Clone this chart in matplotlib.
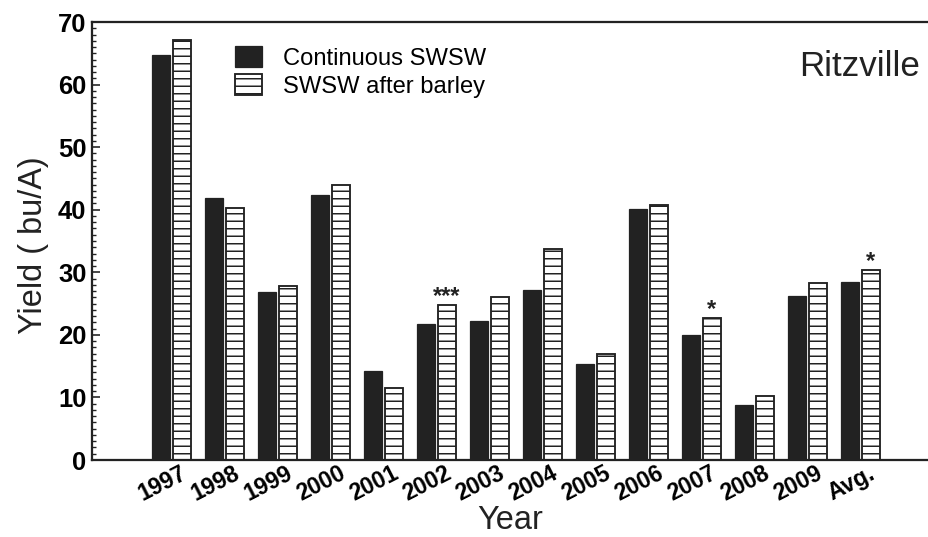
import numpy as np
import matplotlib
matplotlib.use("Agg")
import matplotlib.pyplot as plt
import matplotlib.transforms as mtransforms
from matplotlib.ticker import MultipleLocator

plt.rcParams['font.family'] = ['Liberation Sans', 'DejaVu Sans']
plt.rcParams['hatch.linewidth'] = 1.2

years = ['1997', '1998', '1999', '2000', '2001', '2002', '2003',
         '2004', '2005', '2006', '2007', '2008', '2009', 'Avg.']
continuous = [64.7, 41.9, 26.8, 42.4, 14.2, 21.7, 22.2,
              27.2, 15.3, 40.1, 20.0, 8.8, 26.2, 28.4]
after_barley = [67.1, 40.3, 27.8, 43.9, 11.5, 24.8, 26.0,
                33.7, 16.9, 40.8, 22.7, 10.2, 28.3, 30.4]
stars = {5: '***', 10: '*', 13: '*'}

dark = '#222222'
x = np.arange(len(years))
w = 0.34

fig = plt.figure(figsize=(928 / 90, 537 / 90), dpi=90)
ax = fig.add_axes([92 / 928, 77 / 537, 836 / 928, 438 / 537])

ax.bar(x - 0.2, continuous, w, color=dark, edgecolor=dark, linewidth=1.0,
       label='Continuous SWSW')
ax.bar(x + 0.2, after_barley, w, color='white', edgecolor=dark, linewidth=1.5,
       hatch='--', label='SWSW after barley')

for i, s in stars.items():
    ax.text(x[i] + 0.2, after_barley[i] + 0.3, s, ha='center', va='baseline',
            fontsize=19, fontweight='bold', color=dark)

ax.set_xlim(-1.5, 14.28)
ax.set_ylim(0, 70)
ax.yaxis.set_major_locator(MultipleLocator(10))
ax.yaxis.set_minor_locator(MultipleLocator(1))
ax.tick_params(axis='y', which='major', direction='in', length=6.5, width=1.3,
               labelsize=20.5, pad=4.5, color=dark)
ax.tick_params(axis='y', which='minor', direction='in', length=3.5, width=1.1,
               color=dark)
for lab in ax.get_yticklabels():
    lab.set_fontweight('bold')

ax.set_xticks(x)
ax.set_xticklabels(years, rotation=27, fontsize=18.5, fontweight='bold')
ax.tick_params(axis='x', length=0, pad=1.5)
offset = mtransforms.ScaledTranslation(-9 / 90, 0, fig.dpi_scale_trans)
for lab in ax.get_xticklabels():
    lab.set_transform(lab.get_transform() + offset)

for side in ['left', 'top', 'bottom']:
    ax.spines[side].set_linewidth(1.8)
    ax.spines[side].set_color(dark)
ax.spines['right'].set_visible(False)

ax.set_ylabel('Yield ( bu/A)', fontsize=26, color=dark)
ax.yaxis.set_label_coords(-0.0514, 0.49)
ax.set_xlabel('Year', fontsize=26, color=dark)
ax.xaxis.label.set_va('baseline')
ax.xaxis.set_label_coords(0.5, -0.157)

ax.text(0.99, 0.937, 'Ritzville', transform=ax.transAxes, ha='right',
        va='top', fontsize=28, color=dark)

ax.legend(loc='upper left', bbox_to_anchor=(0.171, 0.945), frameon=False,
          fontsize=19, handlelength=1.14, handleheight=0.97,
          handletextpad=0.88, labelspacing=0.2, borderpad=0, borderaxespad=0)

fig.savefig('out.png', dpi=90)
